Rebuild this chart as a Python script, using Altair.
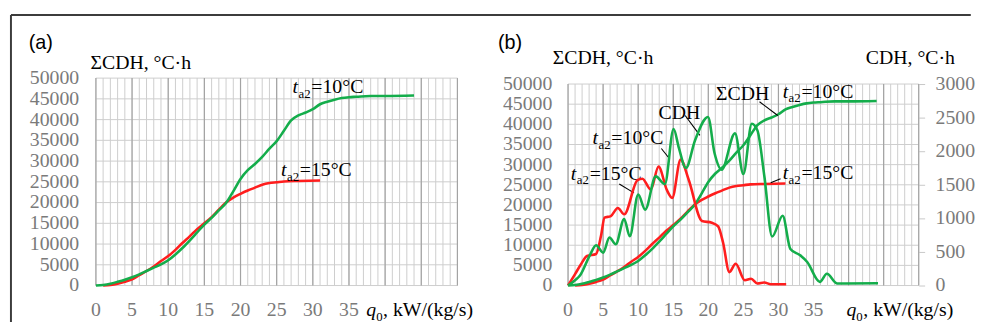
import altair as alt
import pandas as pd

SERIF = "Liberation Serif"
SANS = "Liberation Sans"
GREEN = "#14ad4b"
RED = "#ff1e1e"
LABEL_GRAY = "#7a7a7a"
MINOR_GRID = "#cdcdcd"
MAJOR_GRID = "#a3a3a3"

# ---------------- data ----------------
x_tick_labels = [0, 5, 10, 15, 20, 25, 30, 35]
x_minor = list(range(0, 51))
x_major = list(range(0, 51, 5))
y_left_ticks = list(range(0, 50001, 5000))
y_right_ticks = list(range(0, 3001, 500))

# cumulative CDH, t_a2 = 10 C
sum10_q = [0, 1, 2, 3, 4, 5, 6, 7, 8, 9, 10, 11, 12, 13, 14, 15, 16, 17, 18, 19, 20,
           21, 22, 23, 24, 25, 26, 27, 28, 29, 30, 31, 32, 33, 34, 35, 36, 38, 40, 44]
sum10_v = [0, 150, 450, 900, 1400, 2000, 2700, 3500, 4300, 5100, 6100, 7500, 9100, 10900,
           12800, 14700, 16300, 18100, 19900, 22700, 25700, 27800, 29300, 31000, 33000,
           34800, 37300, 39800, 41000, 41700, 42500, 43700, 44300, 44800, 45200, 45400,
           45500, 45700, 45700, 45800]

# cumulative CDH, t_a2 = 15 C
sum15_q = [1, 2, 3, 4, 5, 6, 7, 8, 9, 10, 11, 12, 13, 14, 15, 16, 17, 18, 19, 20, 21,
           22, 23, 24, 25, 26, 28, 31]
sum15_v = [0, 150, 450, 900, 1500, 2500, 3500, 4600, 5900, 7100, 8600, 10300, 11900, 13600,
           15000, 16500, 18300, 20000, 21200, 22100, 22900, 23600, 24300, 24700, 24900,
           25100, 25200, 25300]

# CDH per interval, t_a2 = 10 C (right axis)
cdh10_q = [0, 1, 1.7, 3.1, 4, 5, 5.9, 6.8, 8, 8.8, 10, 11, 12.5, 13.8, 15.05, 15.8, 16.8,
           18.1, 19.95, 20.9, 21.9, 23.8, 25, 26.2, 27, 28, 29.1, 30.6, 31.7, 33.1, 34.1,
           35.9, 36.9, 38.4, 44.2]
cdh10_v = [0, 80, 150, 450, 600, 490, 715, 615, 990, 735, 1355, 1130, 1625, 1510, 2330,
           2050, 1750, 2160, 2510, 1965, 1725, 2265, 1660, 2410, 2310, 1620, 730, 1040,
           545, 450, 350, 55, 175, 30, 35]

# CDH per interval, t_a2 = 15 C (right axis)
cdh15_q = [0, 1, 1.8, 2.7, 4, 4.7, 5.2, 6.1, 7.1, 8, 9.9, 10.6, 11.8, 12.9, 14.1, 14.85,
           16.05, 17.2, 19.1, 20.5, 21.4, 22.1, 23, 23.9, 25.2, 26.1, 27, 28, 28.9, 31.1]
cdh15_v = [0, 170, 310, 440, 470, 740, 1010, 1035, 1155, 1060, 1570, 1590, 1430, 1770,
           1420, 1305, 1875, 1575, 960, 935, 880, 640, 200, 325, 80, 100, 30, 45, 20, 20]

# annotation anchors (data coordinates, left axis)
lab_a_x = [27.2, 25.6]
lab_a_y = [46400, 26450]
lab_a_s = ["=10°C", "=15°C"]

lab_b_x = [30.6, 3.5, 0.4, 30.6]
lab_b_y = [46650, 35200, 26300, 26400]
lab_b_s = ["=10°C", "=10°C", "=15°C", "=15°C"]

word_b_x = [21.1, 12.9]
word_b_y = [46000, 41350]
word_b_s = ["ΣCDH", "CDH"]

lead_x = [27.3, 16.7, 13.3, 7.3, 28.9]
lead_y = [45600, 42200, 34000, 25200, 25500]
lead_x2 = [29.9, 18.8, 14.5, 9.4, 30.3]
lead_y2 = [42200, 37250, 31400, 23000, 26500]

# panel letters, x-title anchors and tick-label offsets (data units)
letter_a = (-9.3, 56900)
letter_b = (-10.0, 58800)
xtitle_a = (37.4, -7400)
xtitle_b = (39.7, -7600)
xlab_y_a, ylab_x_a = -5950, -2.32
xlab_y_b, ylab_x_b, rlab_x_b = -6130, -2.25, 52.4

# ---------------- geometry ----------------
W_A, W_B, H = 366, 355, 210
YMAX_A = 50000
YMAX_B = 50000 * 210 / 204
RMAX_B = 3000 * 210 / 204


def x_enc():
    return alt.X("x:Q", scale=alt.Scale(domain=[0, 50], nice=False, zero=True),
                 axis=alt.Axis(values=x_tick_labels, grid=False, ticks=False, domain=False,
                               labels=False, title=None))


def y_left_enc(ymax, title_x, title_y):
    return alt.Y("y:Q", scale=alt.Scale(domain=[0, ymax], nice=False, zero=True),
                 axis=alt.Axis(values=y_left_ticks, grid=False, ticks=False, domain=False,
                               labels=False,
                               title="ΣCDH, °C·h", titleAngle=0,
                               titleAlign="left", titleBaseline="alphabetic",
                               titleX=title_x, titleY=title_y, titleFont=SERIF,
                               titleFontSize=20, titleFontWeight="normal", titleColor="black"))


def y_right_enc():
    return alt.Y("y:Q", scale=alt.Scale(domain=[0, RMAX_B], nice=False, zero=True),
                 axis=alt.Axis(orient="right", values=y_right_ticks, grid=False, ticks=True,
                               tickSize=6, tickColor="#c8c8c8", domain=False,
                               labels=False,
                               title="CDH, °C·h", titleAngle=0,
                               titleAlign="left", titleBaseline="alphabetic",
                               titleX=-54, titleY=-15, titleFont=SERIF, titleFontSize=20,
                               titleFontWeight="normal", titleColor="black"))


def tick_text(values, axis, fixed, ye, align):
    if axis == "x":
        df = pd.DataFrame({"x": values, "y": fixed})
    else:
        df = pd.DataFrame({"y": values, "x": fixed})
    df["s"] = [str(v) for v in values]
    return alt.Chart(df).mark_text(font=SERIF, fontSize=20, color=LABEL_GRAY, align=align,
                                   baseline="middle").encode(x=x_enc(), y=ye, text="s:N")


def grid_layers(ye):
    v_minor = pd.DataFrame({"x": x_minor, "y": 0, "y2": 50000})
    v_major = pd.DataFrame({"x": x_major, "y": 0, "y2": 50000})
    h = pd.DataFrame({"y": y_left_ticks, "x": 0, "x2": 50})
    return [
        alt.Chart(v_minor).mark_rule(color=MINOR_GRID, strokeWidth=1).encode(x=x_enc(), y=ye, y2="y2:Q"),
        alt.Chart(h).mark_rule(color=MINOR_GRID, strokeWidth=1).encode(x=x_enc(), x2="x2:Q", y=ye),
        alt.Chart(v_major).mark_rule(color=MAJOR_GRID, strokeWidth=1.2).encode(x=x_enc(), y=ye, y2="y2:Q"),
    ]


def line(qs, vs, color, ye):
    df = pd.DataFrame({"x": qs, "y": vs})
    return alt.Chart(df).mark_line(color=color, strokeWidth=2.6, interpolate="monotone").encode(x=x_enc(), y=ye)


def ta2_labels(xs, ys, ss, ye):
    df = pd.DataFrame({"x": xs, "y": ys, "s": ss})
    base = alt.Chart(df)
    common = dict(font=SERIF, align="left", baseline="alphabetic", color="black")
    return [
        base.mark_text(text="t", fontStyle="italic", fontSize=20, **common).encode(x=x_enc(), y=ye),
        base.mark_text(text="a2", fontSize=13, dx=6, dy=5, **common).encode(x=x_enc(), y=ye),
        base.mark_text(fontSize=20, dx=19, **common).encode(x=x_enc(), y=ye, text="s:N"),
    ]


def x_title(pos, ye):
    df = pd.DataFrame({"x": [pos[0]], "y": [pos[1]]})
    base = alt.Chart(df)
    common = dict(font=SERIF, align="left", baseline="alphabetic", color="black")
    return [
        base.mark_text(text="q", fontStyle="italic", fontSize=20, **common).encode(x=x_enc(), y=ye),
        base.mark_text(text="0", fontSize=13, dx=10, dy=5, **common).encode(x=x_enc(), y=ye),
        base.mark_text(text=", kW/(kg/s)", fontSize=20, dx=17, **common).encode(x=x_enc(), y=ye),
    ]


def letter(pos, txt, ye):
    df = pd.DataFrame({"x": [pos[0]], "y": [pos[1]]})
    return alt.Chart(df).mark_text(text=txt, font=SANS, fontSize=20, align="left",
                                   baseline="alphabetic", color="black").encode(x=x_enc(), y=ye)


# ---------------- panel (a) ----------------
ye_a = y_left_enc(YMAX_A, -6, -10)

frame = pd.DataFrame({"x": [-11.75, -11.75], "y": [65238, 65238],
                      "x2": [121.0, -11.75], "y2": [65238, -8800]})
frame_layer = alt.Chart(frame).mark_rule(color="#3c3c3c", strokeWidth=2).encode(
    x=x_enc(), y=ye_a, x2="x2:Q", y2="y2:Q")

panel_a = alt.layer(
    *grid_layers(ye_a),
    line(sum15_q, sum15_v, RED, ye_a),
    line(sum10_q, sum10_v, GREEN, ye_a),
    tick_text(x_tick_labels, "x", xlab_y_a, ye_a, "center"),
    tick_text(y_left_ticks, "y", ylab_x_a, ye_a, "right"),
    *ta2_labels(lab_a_x, lab_a_y, lab_a_s, ye_a),
    *x_title(xtitle_a, ye_a),
    letter(letter_a, "(a)", ye_a),
    frame_layer,
).properties(width=W_A, height=H)

# ---------------- panel (b) ----------------
ye_b = y_left_enc(YMAX_B, -16, -15)
ye_r = y_right_enc()

lead_df = pd.DataFrame({"x": lead_x, "y": lead_y, "x2": lead_x2, "y2": lead_y2})
leaders = alt.Chart(lead_df).mark_rule(color="black", strokeWidth=1.1).encode(
    x=x_enc(), y=ye_b, x2="x2:Q", y2="y2:Q")

words_df = pd.DataFrame({"x": word_b_x, "y": word_b_y, "s": word_b_s})
words = alt.Chart(words_df).mark_text(font=SERIF, fontSize=20, align="left",
                                      baseline="alphabetic", color="black").encode(
    x=x_enc(), y=ye_b, text="s:N")

left_b = alt.layer(
    *grid_layers(ye_b),
    line(sum15_q, sum15_v, RED, ye_b),
    line(sum10_q, sum10_v, GREEN, ye_b),
    tick_text(x_tick_labels, "x", xlab_y_b, ye_b, "center"),
    tick_text(y_left_ticks, "y", ylab_x_b, ye_b, "right"),
    leaders,
    words,
    *ta2_labels(lab_b_x, lab_b_y, lab_b_s, ye_b),
    *x_title(xtitle_b, ye_b),
    letter(letter_b, "(b)", ye_b),
)

right_b = alt.layer(
    line(cdh15_q, cdh15_v, RED, ye_r),
    line(cdh10_q, cdh10_v, GREEN, ye_r),
    tick_text(y_right_ticks, "y", rlab_x_b, ye_r, "left"),
)

panel_b = alt.layer(left_b, right_b).resolve_scale(y="independent").properties(width=W_B, height=H)

chart = alt.hconcat(panel_a, panel_b, spacing=112).properties(
    bounds="flush",
    padding={"left": 1, "top": 4, "right": 0, "bottom": 0},
    background="white",
).configure_view(stroke=None)

chart.save("out.html", embed_options={"renderer": "svg", "actions": False})
